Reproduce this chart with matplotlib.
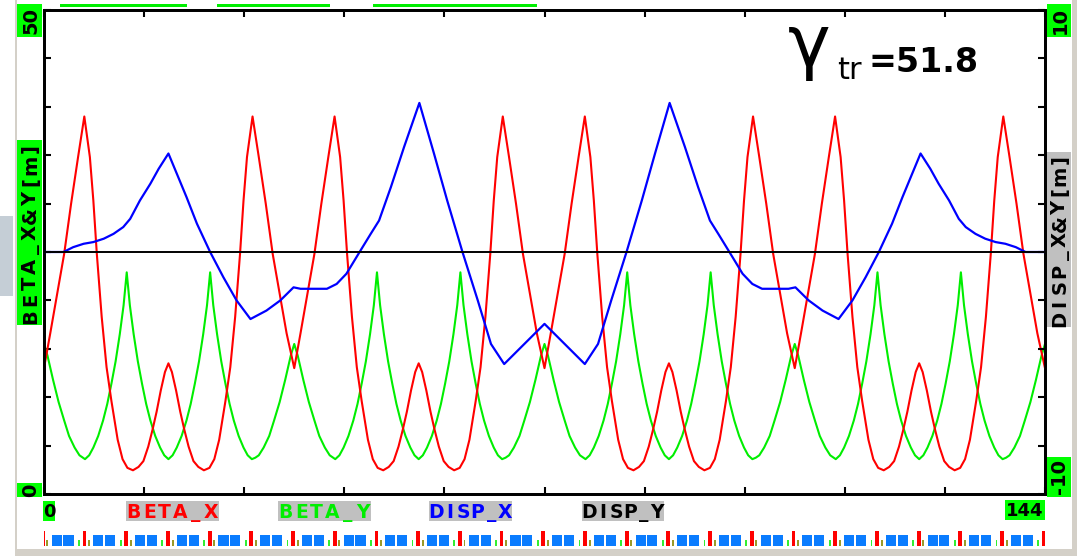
import matplotlib
matplotlib.use("Agg")
import matplotlib.pyplot as plt
from matplotlib.patches import Rectangle

# ---------------- data ----------------
s_betax = [0.0, 0.9, 1.9, 2.9, 3.9, 4.9, 5.8, 6.6, 7.1, 7.6, 8.3, 9.0, 9.7, 10.6, 11.3, 12.0, 12.8, 13.6, 14.3, 15.0,
           15.6, 16.2, 16.8, 17.4, 17.9, 18.4, 19.0, 19.6, 20.2, 20.8, 21.5, 22.2, 23.0, 23.8, 24.5, 25.2, 26.1, 26.8,
           27.5, 28.2, 28.7, 29.2, 30.0, 30.9, 31.9, 32.9, 33.9, 34.9,
           36.0, 36.9, 37.9, 38.9, 39.9, 40.9, 41.8, 42.6, 43.1, 43.6, 44.3, 45.0, 45.7, 46.6, 47.3, 48.0, 48.8, 49.6,
           50.3, 51.0, 51.6, 52.2, 52.8, 53.4, 53.9, 54.4, 55.0, 55.6, 56.2, 56.8, 57.5, 58.2, 59.0, 59.8, 60.5, 61.2,
           62.1, 62.8, 63.5, 64.2, 64.7, 65.2, 66.0, 66.9, 67.9, 68.9, 69.9, 70.9,
           72.0, 72.9, 73.9, 74.9, 75.9, 76.9, 77.8, 78.6, 79.1, 79.6, 80.3, 81.0, 81.7, 82.6, 83.3, 84.0, 84.8, 85.6,
           86.3, 87.0, 87.6, 88.2, 88.8, 89.4, 89.9, 90.4, 91.0, 91.6, 92.2, 92.8, 93.5, 94.2, 95.0, 95.8, 96.5, 97.2,
           98.1, 98.8, 99.5, 100.2, 100.7, 101.2, 102.0, 102.9, 103.9, 104.9, 105.9, 106.9,
           108.0, 108.9, 109.9, 110.9, 111.9, 112.9, 113.8, 114.6, 115.1, 115.6, 116.3, 117.0, 117.7, 118.6, 119.3,
           120.0, 120.8, 121.6, 122.3, 123.0, 123.6, 124.2, 124.8, 125.4, 125.9, 126.4, 127.0, 127.6, 128.2, 128.8,
           129.5, 130.2, 131.0, 131.8, 132.5, 133.2, 134.1, 134.8, 135.5, 136.2, 136.7, 137.2, 138.0, 138.9, 139.9,
           140.9, 141.9, 142.9, 144.0]
beta_x = [13.0, 16.6, 20.7, 24.8, 30.0, 34.8, 39.0, 34.8, 30.3, 24.8, 18.3, 13.1, 9.6, 5.6, 3.6, 2.7, 2.45, 2.8, 3.4, 4.9,
          6.6, 8.5, 10.7, 12.6, 13.5, 12.6, 10.7, 8.5, 6.6, 4.9, 3.4, 2.8, 2.45, 2.7, 3.6, 5.6, 9.6, 13.1,
          18.3, 24.8, 30.3, 34.8, 39.0, 34.8, 30.0, 24.8, 20.7, 16.6,
          13.0, 16.6, 20.7, 24.8, 30.0, 34.8, 39.0, 34.8, 30.3, 24.8, 18.3, 13.1, 9.6, 5.6, 3.6, 2.7, 2.45, 2.8, 3.4, 4.9,
          6.6, 8.5, 10.7, 12.6, 13.5, 12.6, 10.7, 8.5, 6.6, 4.9, 3.4, 2.8, 2.45, 2.7, 3.6, 5.6, 9.6, 13.1,
          18.3, 24.8, 30.3, 34.8, 39.0, 34.8, 30.0, 24.8, 20.7, 16.6,
          13.0, 16.6, 20.7, 24.8, 30.0, 34.8, 39.0, 34.8, 30.3, 24.8, 18.3, 13.1, 9.6, 5.6, 3.6, 2.7, 2.45, 2.8, 3.4, 4.9,
          6.6, 8.5, 10.7, 12.6, 13.5, 12.6, 10.7, 8.5, 6.6, 4.9, 3.4, 2.8, 2.45, 2.7, 3.6, 5.6, 9.6, 13.1,
          18.3, 24.8, 30.3, 34.8, 39.0, 34.8, 30.0, 24.8, 20.7, 16.6,
          13.0, 16.6, 20.7, 24.8, 30.0, 34.8, 39.0, 34.8, 30.3, 24.8, 18.3, 13.1, 9.6, 5.6, 3.6, 2.7, 2.45, 2.8, 3.4, 4.9,
          6.6, 8.5, 10.7, 12.6, 13.5, 12.6, 10.7, 8.5, 6.6, 4.9, 3.4, 2.8, 2.45, 2.7, 3.6, 5.6, 9.6, 13.1,
          18.3, 24.8, 30.3, 34.8, 39.0, 34.8, 30.0, 24.8, 20.7, 16.6,
          13.0]

s_betay = [0.0, 0.5, 1.3, 2.1, 2.9, 3.6, 4.4, 5.1, 5.9, 6.5, 7.1, 7.8, 8.5, 9.1, 9.7, 10.3, 10.9, 11.45, 11.9, 12.35,
           12.9, 13.5, 14.1, 14.7, 15.3, 16.0, 16.7, 17.3, 17.9, 18.5, 19.1, 19.8, 20.5, 21.1, 21.7, 22.3, 22.9, 23.45,
           23.9, 24.35, 24.9, 25.5, 26.1, 26.7, 27.3, 28.0, 28.7, 29.3, 29.9, 30.4, 30.9, 31.6, 32.4, 33.1, 33.9, 34.7,
           35.5,
           36.0, 36.5, 37.3, 38.1, 38.9, 39.6, 40.4, 41.1, 41.9, 42.5, 43.1, 43.8, 44.5, 45.1, 45.7, 46.3, 46.9, 47.45,
           47.9, 48.35, 48.9, 49.5, 50.1, 50.7, 51.3, 52.0, 52.7, 53.3, 53.9, 54.5, 55.1, 55.8, 56.5, 57.1, 57.7, 58.3,
           58.9, 59.45, 59.9, 60.35, 60.9, 61.5, 62.1, 62.7, 63.3, 64.0, 64.7, 65.3, 65.9, 66.4, 66.9, 67.6, 68.4, 69.1,
           69.9, 70.7, 71.5,
           72.0, 72.5, 73.3, 74.1, 74.9, 75.6, 76.4, 77.1, 77.9, 78.5, 79.1, 79.8, 80.5, 81.1, 81.7, 82.3, 82.9, 83.45,
           83.9, 84.35, 84.9, 85.5, 86.1, 86.7, 87.3, 88.0, 88.7, 89.3, 89.9, 90.5, 91.1, 91.8, 92.5, 93.1, 93.7, 94.3,
           94.9, 95.45, 95.9, 96.35, 96.9, 97.5, 98.1, 98.7, 99.3, 100.0, 100.7, 101.3, 101.9, 102.4, 102.9, 103.6,
           104.4, 105.1, 105.9, 106.7, 107.5,
           108.0, 108.5, 109.3, 110.1, 110.9, 111.6, 112.4, 113.1, 113.9, 114.5, 115.1, 115.8, 116.5, 117.1, 117.7,
           118.3, 118.9, 119.45, 119.9, 120.35, 120.9, 121.5, 122.1, 122.7, 123.3, 124.0, 124.7, 125.3, 125.9, 126.5,
           127.1, 127.8, 128.5, 129.1, 129.7, 130.3, 130.9, 131.45, 131.9, 132.35, 132.9, 133.5, 134.1, 134.7, 135.3,
           136.0, 136.7, 137.3, 137.9, 138.4, 138.9, 139.6, 140.4, 141.1, 141.9, 142.7, 143.5, 144.0]
beta_y = [15.5, 14.3, 11.8, 9.5, 7.6, 6.0, 4.8, 4.0, 3.6, 4.0, 4.8, 6.0, 7.6, 9.3, 11.4, 13.7, 16.5, 19.5, 22.9, 19.5,
          16.5, 13.7, 11.4, 9.3, 7.6, 6.0, 4.8, 4.0, 3.6, 4.0, 4.8, 6.0, 7.6, 9.3, 11.4, 13.7, 16.5, 19.5, 22.9, 19.5,
          16.5, 13.7, 11.4, 9.3, 7.6, 6.0, 4.8, 4.0, 3.6, 3.75, 4.0, 4.8, 6.0, 7.6, 9.5, 11.8, 14.3,
          15.5, 14.3, 11.8, 9.5, 7.6, 6.0, 4.8, 4.0, 3.6, 4.0, 4.8, 6.0, 7.6, 9.3, 11.4, 13.7, 16.5, 19.5, 22.9, 19.5,
          16.5, 13.7, 11.4, 9.3, 7.6, 6.0, 4.8, 4.0, 3.6, 4.0, 4.8, 6.0, 7.6, 9.3, 11.4, 13.7, 16.5, 19.5, 22.9, 19.5,
          16.5, 13.7, 11.4, 9.3, 7.6, 6.0, 4.8, 4.0, 3.6, 3.75, 4.0, 4.8, 6.0, 7.6, 9.5, 11.8, 14.3,
          15.5, 14.3, 11.8, 9.5, 7.6, 6.0, 4.8, 4.0, 3.6, 4.0, 4.8, 6.0, 7.6, 9.3, 11.4, 13.7, 16.5, 19.5, 22.9, 19.5,
          16.5, 13.7, 11.4, 9.3, 7.6, 6.0, 4.8, 4.0, 3.6, 4.0, 4.8, 6.0, 7.6, 9.3, 11.4, 13.7, 16.5, 19.5, 22.9, 19.5,
          16.5, 13.7, 11.4, 9.3, 7.6, 6.0, 4.8, 4.0, 3.6, 3.75, 4.0, 4.8, 6.0, 7.6, 9.5, 11.8, 14.3,
          15.5, 14.3, 11.8, 9.5, 7.6, 6.0, 4.8, 4.0, 3.6, 4.0, 4.8, 6.0, 7.6, 9.3, 11.4, 13.7, 16.5, 19.5, 22.9, 19.5,
          16.5, 13.7, 11.4, 9.3, 7.6, 6.0, 4.8, 4.0, 3.6, 4.0, 4.8, 6.0, 7.6, 9.3, 11.4, 13.7, 16.5, 19.5, 22.9, 19.5,
          16.5, 13.7, 11.4, 9.3, 7.6, 6.0, 4.8, 4.0, 3.6, 3.75, 4.0, 4.8, 6.0, 7.6, 9.5, 11.8, 14.3,
          15.5]

s_dispx = [0, 2.8, 4.2, 5.7, 7.1, 8.6, 10.0, 11.4, 12.4, 13.8, 15.3, 16.5, 17.9, 19.1, 20.5, 22.0, 23.9, 25.8, 27.7, 29.7,
           32.0, 34.0, 35.9, 36.9, 38.8, 40.7, 42.1, 43.5, 45.4, 47.0, 48.2, 49.9, 51.8, 54.0, 56.1, 58.0, 60.2, 62.4,
           64.3, 66.2, 69.1, 72.0,
           74.9, 77.8, 79.7, 81.6, 83.8, 86.0, 87.9, 90.0, 92.2, 94.1, 95.8, 97.0, 98.6, 100.5, 101.9, 103.3, 105.2,
           107.1, 108.1, 110.0, 112.0, 114.3, 116.3, 118.2, 120.1, 122.0, 123.5, 124.9, 126.1, 127.5, 128.7, 130.2,
           131.6, 132.6, 134.0, 135.4, 136.9, 138.3, 139.8, 141.2, 144.0]
disp_x = [0.0, 0.0, 0.2, 0.34, 0.41, 0.55, 0.75, 1.03, 1.37, 2.13, 2.82, 3.44, 4.07, 3.24, 2.27, 1.17, 0.0, -1.04, -2.0,
          -2.77, -2.42, -2.0, -1.46, -1.52, -1.52, -1.52, -1.32, -0.9, 0.0, 0.75, 1.3, 2.68, 4.34, 6.16, 4.07, 2.13, 0.0,
          -2.0, -3.8, -4.63, -3.8, -2.97,
          -3.8, -4.63, -3.8, -2.0, 0.0, 2.13, 4.07, 6.16, 4.34, 2.68, 1.3, 0.75, 0.0, -0.9, -1.32, -1.52, -1.52, -1.52,
          -1.46, -2.0, -2.42, -2.77, -2.0, -1.04, 0.0, 1.17, 2.27, 3.24, 4.07, 3.44, 2.82, 2.13, 1.37, 1.03, 0.75, 0.55,
          0.41, 0.34, 0.2, 0.0, 0.0]

s_dispy = [0, 144]
disp_y = [0.0, 0.0]

# lattice elements (quadrupole positions, m)
quad_s = [0, 6, 12, 18, 24, 30, 36, 42, 48, 54, 60, 66, 72, 78, 84, 90, 96, 102, 108, 114, 120, 126, 132, 138, 144]

gamma_tr = "51.8"
legend_names = ["BETA_X", "BETA_Y", "DISP_X", "DISP_Y"]
legend_colors = ["#ff0000", "#00ee00", "#0000ff", "#000000"]

# ---------------- layout helpers (pixel coordinates) ----------------
W, H = 1077, 556
fig = plt.figure(figsize=(W / 100, H / 100), dpi=100)
fig.patch.set_facecolor("white")


def fx(px):
    return px / W


def fy(py):
    return 1 - py / H


def frect(x0, y0, x1, y1, color, z=1):
    fig.add_artist(Rectangle((fx(x0), fy(y1)), fx(x1) - fx(x0), fy(y0) - fy(y1),
                             transform=fig.transFigure, facecolor=color, edgecolor="none", zorder=z))


def box_text(x0, y0, x1, y1, text, fc, color="black", vertical=False, size=13, spaced=True):
    frect(x0, y0, x1, y1, fc, z=2)
    kw = dict(fontsize=size, fontweight="bold", color=color, zorder=3, family="DejaVu Sans",
              ha="center", va="center")
    if not spaced:
        fig.text(fx((x0 + x1) / 2 + (1 if vertical else 0)), fy((y0 + y1) / 2 + (0 if vertical else 1)),
                 text, rotation=90 if vertical else 0, **kw)
        return
    n = len(text)
    if vertical:
        pitch = (y1 - y0) / n
        cx = (x0 + x1) / 2 + 1
        for i, ch in enumerate(text):
            fig.text(fx(cx), fy(y1 - (i + 0.5) * pitch), ch, rotation=90, **kw)
    else:
        pitch = (x1 - x0) / n
        cy = (y0 + y1) / 2 + 1
        for i, ch in enumerate(text):
            fig.text(fx(x0 + (i + 0.5) * pitch), fy(cy), ch, **kw)


# window frame decorations
frect(15, 0, 17, 549, "#d4d0c8")
frect(15, 549, 1077, 556, "#d4d0c8")
frect(1072, 0, 1077, 556, "#d4d0c8")
frect(0, 216, 13, 296, "#c5ced6")
for a, b in [(60, 187), (217, 330), (373, 537)]:
    frect(a, 4, b, 7, "#00ee00")

# ---------------- main axes ----------------
L, R, T, B = 44, 1045, 10, 494
ax = fig.add_axes([fx(L), fy(B), fx(R) - fx(L), fy(T) - fy(B)])
ax.set_facecolor("white")
ax.plot(s_betax, beta_x, color="#ff0000", lw=1.5, zorder=3)
ax.plot(s_betay, beta_y, color="#00ee00", lw=1.5, zorder=2)
ax.set_xlim(0, 144)
ax.set_ylim(0, 50)
ax.set_xticks([14.4 * i for i in range(11)])
ax.set_yticks([5 * i for i in range(11)])
ax.tick_params(axis="both", direction="in", length=5, width=1.5, top=True, bottom=True,
               left=True, right=False, labelleft=False, labelbottom=False)
for sp in ax.spines.values():
    sp.set_linewidth(2)

ax2 = ax.twinx()
ax2.plot(s_dispx, disp_x, color="#0000ff", lw=1.6, zorder=3)
ax2.plot(s_dispy, disp_y, color="black", lw=1.4, zorder=4)
ax2.set_ylim(-10, 10)
ax2.set_yticks([-10 + 2 * i for i in range(11)])
ax2.tick_params(axis="y", direction="in", length=5, width=1.5, labelright=False)
for sp in ax2.spines.values():
    sp.set_linewidth(2)

# gamma transition text
fig.text(fx(788), fy(66), "\u03b3", fontsize=52, color="black", ha="left", va="baseline", family="DejaVu Sans")
fig.text(fx(837), fy(79), "tr", fontsize=22, color="black", ha="left", va="baseline", family="DejaVu Sans")
fig.text(fx(869), fy(72), "=" + gamma_tr, fontsize=24, fontweight="bold", color="black",
         ha="left", va="baseline", family="DejaVu Sans")

# ---------------- axis label boxes ----------------
GREEN = "#00ff00"
GRAY = "#c0c0c0"
box_text(17, 4, 42, 37, "50", GREEN, vertical=True, size=14, spaced=False)
box_text(17, 483, 42, 497, "0", GREEN, vertical=True, size=14, spaced=False)
box_text(17, 140, 42, 325, "BETA_X&Y[m]", GREEN, vertical=True, size=14)
box_text(1047, 4, 1071, 37, "10", GREEN, vertical=True, size=14, spaced=False)
box_text(1047, 457, 1071, 497, "-10", GREEN, vertical=True, size=14, spaced=False)
box_text(1047, 152, 1071, 327, "DISP_X&Y[m]", GRAY, vertical=True, size=14)
box_text(43, 501, 55, 521, "0", GREEN, size=13, spaced=False)
box_text(1005, 500, 1045, 520, "144", GREEN, size=13, spaced=False)
leg_x = [(126, 219), (278, 371), (429, 512), (582, 664)]
for (a, b), name, col in zip(leg_x, legend_names, legend_colors):
    box_text(a, 501, b, 521, name, GRAY, color=col, size=13.5)

# ---------------- lattice element strip ----------------
st = fig.add_axes([fx(L), fy(548), fx(R) - fx(L), fy(528) - fy(548)])
st.set_xlim(0, 144)
st.set_ylim(0, 20)
st.axis("off")
st.bar([q + 1.1 for q in quad_s[:-1]], 11, width=1.45, bottom=2, align="edge", color="#0a7cff")
st.bar([q + 2.8 for q in quad_s[:-1]], 11, width=1.45, bottom=2, align="edge", color="#0a7cff")
st.bar([q - 1.1 for q in quad_s[1:]], 6, width=0.25, bottom=2, align="edge", color="#33ee33")
st.bar([q + 0.35 for q in quad_s[:-1]], 6, width=0.28, bottom=2, align="edge", color="#9a9a2a")
st.bar([q - 0.45 for q in quad_s], 15, width=0.55, bottom=2, align="edge", color="#ff0000")

fig.savefig("out.png", dpi=100, facecolor="white")
